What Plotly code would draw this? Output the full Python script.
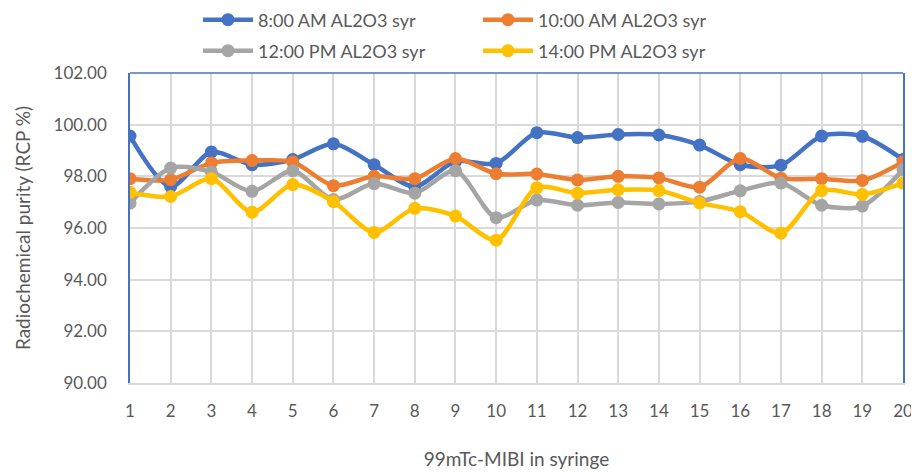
import plotly.graph_objects as go

syringe = list(range(1, 21))
am8 = [99.56, 97.6, 98.94, 98.45, 98.65, 99.26, 98.45, 97.6, 98.58, 98.5,
       99.69, 99.5, 99.62, 99.6, 99.21, 98.45, 98.43, 99.56, 99.55, 98.65]
am10 = [97.91, 97.87, 98.52, 98.61, 98.56, 97.64, 98.0, 97.91, 98.69, 98.1,
        98.09, 97.86, 98.0, 97.94, 97.58, 98.69, 97.93, 97.91, 97.84, 98.56]
pm12 = [96.96, 98.32, 98.17, 97.42, 98.22, 97.1, 97.72, 97.35, 98.22, 96.4,
        97.08, 96.88, 96.99, 96.93, 97.03, 97.44, 97.74, 96.88, 96.85, 98.26]
pm14 = [97.38, 97.22, 97.91, 96.61, 97.68, 97.02, 95.83, 96.76, 96.46, 95.53,
        97.56, 97.35, 97.48, 97.45, 96.97, 96.63, 95.8, 97.45, 97.3, 97.74]

names = ["8:00 AM AL2O3 syr", "10:00 AM AL2O3 syr", "12:00 PM AL2O3 syr", "14:00 PM AL2O3 syr"]
colors = ["#4472C4", "#ED7D31", "#A5A5A5", "#FFC000"]
series = [am8, am10, pm12, pm14]
legends = ["legend", "legend", "legend2", "legend2"]

FONT = "Lato"
TXT = "#595959"
OFF = 8          # page body margin
W, H = 919 - OFF, 473 - OFF

fig = go.Figure()
for name, col, vals, lg in zip(names, colors, series, legends):
    fig.add_trace(go.Scatter(
        x=syringe, y=vals, name=name, mode="lines+markers",
        line=dict(color=col, width=4.5, shape="spline", smoothing=0.8),
        marker=dict(color=col, size=13),
        legend=lg,
    ))

legend_common = dict(orientation="h", xanchor="left", yanchor="middle",
                     xref="container", yref="container",
                     font=dict(family=FONT, size=18, color=TXT),
                     entrywidth=215, entrywidthmode="pixels",
                     bgcolor="rgba(0,0,0,0)", itemwidth=50)

fig.update_layout(
    width=W, height=H,
    margin=dict(l=130 - OFF, r=16, t=73 - OFF, b=H - (383 - OFF), autoexpand=False),
    paper_bgcolor="white", plot_bgcolor="white",
    font=dict(family=FONT, color=TXT),
    showlegend=True,
    legend=dict(x=(198 - OFF) / W, y=1 - (20 - OFF) / H, **legend_common),
    legend2=dict(x=(198 - OFF) / W, y=1 - (51 - OFF) / H, **legend_common),
    xaxis=dict(
        range=[1, 20], tickmode="array", tickvals=syringe,
        ticktext=[str(s) for s in syringe],
        showgrid=True, gridcolor="#D9D9D9", gridwidth=1.5,
        showline=True, linecolor="#D9D9D9", linewidth=1.5, mirror=False,
        ticks="", zeroline=False, automargin=False,
        ticklabelstandoff=12,
        tickfont=dict(family=FONT, size=17, color=TXT),
        title=dict(text="99mTc-MIBI in syringe", font=dict(family=FONT, size=19, color=TXT), standoff=33),
    ),
    yaxis=dict(
        range=[90, 102], dtick=2, tick0=90, tickformat=".2f",
        showgrid=True, gridcolor="#D9D9D9", gridwidth=1.5,
        showline=True, linecolor="#4472C4", linewidth=1.5, mirror=True,
        ticks="", zeroline=False, automargin=False,
        ticklabelstandoff=18,
        tickfont=dict(family=FONT, size=17, color=TXT),
        title=dict(text="Radiochemical purity (RCP %)", font=dict(family=FONT, size=19, color=TXT), standoff=18),
    ),
    shapes=[dict(type="line", xref="paper", yref="paper", x0=0, x1=1, y0=1, y1=1,
                 line=dict(color="#4472C4", width=1.5))],
)

fig.write_html("out.html")
